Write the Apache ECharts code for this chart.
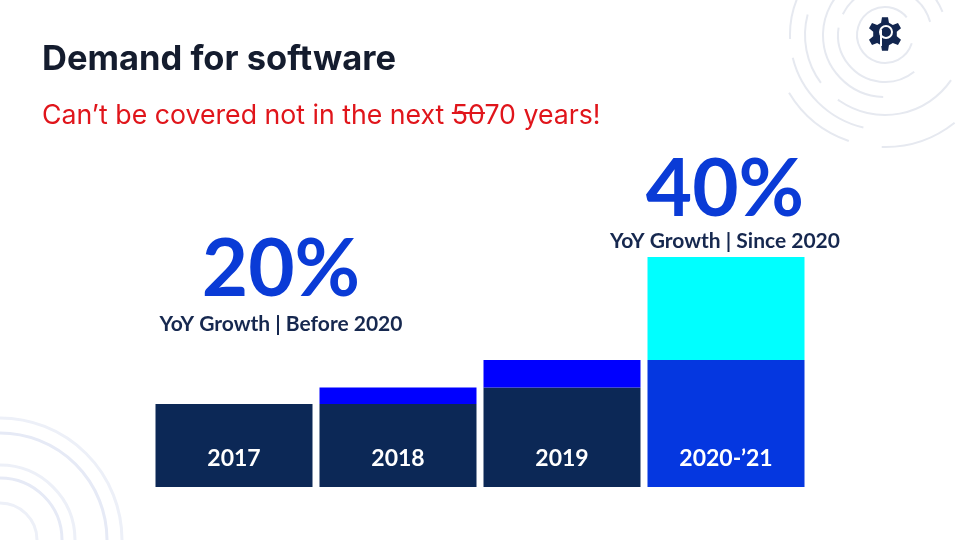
<!DOCTYPE html>
<html>
<head>
<meta charset="utf-8">
<script src="https://cdn.jsdelivr.net/npm/echarts@6/dist/echarts.min.js"></script>
<style>html,body{margin:0;padding:0;background:#fff;}#c{width:960px;height:540px;}</style>
</head>
<body>
<div id="c"></div>
<script>
// ---- data ----
const categories = ['2017', '2018', '2019', '2020-\u201921'];
const baseValues = [100, 100, 120, 153];
const growthValues = [0, 20, 33, 124];
const baseColors = ['#0c2856', '#0c2856', '#0c2856', '#0537e0'];
const growthColors = ['#0000ff', '#0000ff', '#0000ff', '#00ffff'];
const titleText = 'Demand for software';
const subPrefix = 'Can\u2019t be covered not in the next ';
const subStruck = '50';
const subRest = '70 years!';
const notes = [
  { big: '20%', small: 'YoY Growth | Before 2020', x: 281, yBig: 270, ySmall: 324 },
  { big: '40%', small: 'YoY Growth | Since 2020', x: 725, yBig: 190, ySmall: 241 }
];

const chart = echarts.init(document.getElementById('c'), null, { renderer: 'canvas' });

function measure(txt, font) {
  const cv = document.createElement('canvas').getContext('2d');
  cv.font = font;
  return cv.measureText(txt).width;
}
const subFont = '26.7px Inter';
const wPrefix = measure(subPrefix, subFont);
const wStruck = measure(subStruck, subFont);

const gfx = [];
// decorative arcs top-right
const trArcs = [
  [28, 0.3, 5.6], [47, 0.9, 3.3], [47, 3.6, 6.0], [62, 1.6, 4.1], [62, 4.4, 5.9],
  [80, 0.6, 2.2], [80, 2.5, 3.4], [95, 1.8, 2.9], [95, 3.1, 4.4], [112, 0.9, 1.6], [112, 1.9, 2.6]
];
trArcs.forEach(a => gfx.push({
  type: 'arc', silent: true,
  shape: { cx: 885, cy: 35, r: a[0], startAngle: a[1], endAngle: a[2] },
  style: { stroke: '#e6e9f0', lineWidth: 2, fill: null }
}));
// decorative arcs bottom-left
[37, 62, 75, 107, 122].forEach((r, i) => gfx.push({
  type: 'arc', silent: true,
  shape: { cx: 0, cy: 540, r: r, startAngle: 4.71, endAngle: 6.29 },
  style: { stroke: i % 2 ? '#e6eaf6' : '#edf0f8', lineWidth: 3, fill: null }
}));
// logo gear
const gear = [];
const teeth = 6, R1 = 17, R2 = 12;
for (let i = 0; i < teeth; i++) {
  const a0 = (i / teeth) * Math.PI * 2 - Math.PI / 2;
  const step = Math.PI * 2 / teeth;
  gear.push([885 + R2 * Math.cos(a0 - step * 0.32), 34 + R2 * Math.sin(a0 - step * 0.32)]);
  gear.push([885 + R1 * Math.cos(a0 - step * 0.17), 34 + R1 * Math.sin(a0 - step * 0.17)]);
  gear.push([885 + R1 * Math.cos(a0 + step * 0.17), 34 + R1 * Math.sin(a0 + step * 0.17)]);
  gear.push([885 + R2 * Math.cos(a0 + step * 0.32), 34 + R2 * Math.sin(a0 + step * 0.32)]);
}
gfx.push({ type: 'polygon', silent: true, shape: { points: gear }, style: { fill: '#12264f' } });
gfx.push({ type: 'circle', silent: true, shape: { cx: 886, cy: 32, r: 6 }, style: { fill: 'none', stroke: '#ffffff', lineWidth: 2 } });
gfx.push({ type: 'line', silent: true, shape: { x1: 881, y1: 30, x2: 881, y2: 46 }, style: { stroke: '#ffffff', lineWidth: 2 } });

// title & subtitle
gfx.push({ type: 'text', x: 42, y: 60, style: { text: titleText, font: 'bold 34.5px Inter', fill: '#141c2e', textVerticalAlign: 'middle' } });
gfx.push({ type: 'text', x: 42, y: 116, style: { text: subPrefix + subStruck + subRest, font: subFont, fill: '#e0151b', textVerticalAlign: 'middle' } });
gfx.push({ type: 'line', silent: true, shape: { x1: 42 + wPrefix, y1: 113, x2: 42 + wPrefix + wStruck, y2: 113 }, style: { stroke: '#e0151b', lineWidth: 2 } });

// annotations
notes.forEach(n => {
  gfx.push({ type: 'text', x: n.x, y: n.yBig, style: { text: n.big, font: 'bold 80px Lato', fill: '#0a3bd6', textAlign: 'center', textVerticalAlign: 'middle' } });
  gfx.push({ type: 'text', x: n.x, y: n.ySmall, style: { text: n.small, font: 'bold 21px Lato', fill: '#16284f', textAlign: 'center', textVerticalAlign: 'middle' } });
});

chart.setOption({
  animation: false,
  backgroundColor: '#ffffff',
  grid: { left: 152, right: 152, top: 238, bottom: 53 },
  xAxis: { type: 'category', data: categories, show: false },
  yAxis: { type: 'value', min: 0, max: 300, show: false },
  series: [
    {
      type: 'bar', stack: 's', barWidth: 157,
      data: baseValues.map((v, i) => ({ value: v, itemStyle: { color: baseColors[i] } })),
      label: { show: true, position: 'insideBottom', distance: 17, formatter: '{b}', color: '#ffffff', fontFamily: 'Lato', fontWeight: 'bold', fontSize: 23 }
    },
    {
      type: 'bar', stack: 's', barWidth: 157,
      data: growthValues.map((v, i) => ({ value: v, itemStyle: { color: growthColors[i] } }))
    }
  ],
  graphic: gfx
});
</script>
</body>
</html>
